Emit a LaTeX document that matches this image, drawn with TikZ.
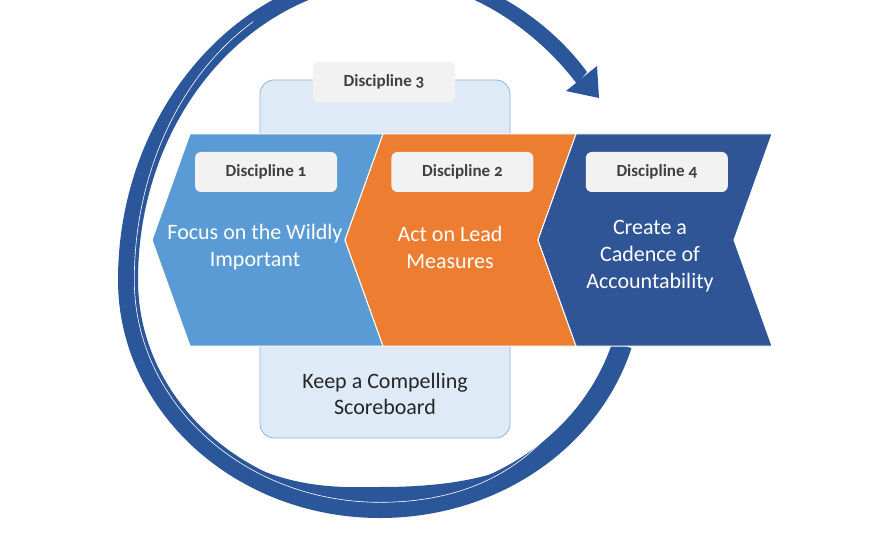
\documentclass[tikz,border=0pt]{standalone}
\usepackage{fontspec}
\setmainfont{Carlito}[Numbers=OldStyle]
\usetikzlibrary{positioning}

\definecolor{wheelblue}{HTML}{2B579A}
\definecolor{darkblue}{HTML}{2F5597}
\definecolor{lightblue}{HTML}{5B9BD5}
\definecolor{discorange}{HTML}{ED7D31}
\definecolor{boardfill}{HTML}{DEEBF7}
\definecolor{boardline}{HTML}{8DB3E2}
\definecolor{tagfill}{HTML}{F2F2F2}
\definecolor{tagtext}{HTML}{404040}

\begin{document}
\begin{tikzpicture}[x=1pt, y=-1pt]
  \tikzset{TagStyle/.style  = {shape          = rectangle,
                               rounded corners = 6pt,
                               fill           = tagfill,
                               text           = tagtext,
                               font           = \bfseries\fontsize{17}{20}\selectfont,
                               inner sep      = 0pt,
                               minimum width  = 142pt,
                               minimum height = 40pt},
           TextStyle/.style = {align = center, text = white, font = \fontsize{22}{27}\selectfont},
           BandStyle/.style = {draw = wheelblue, line cap = butt}}
  \useasboundingbox (0,0) rectangle (880,540);
  \fill[white] (0,0) rectangle (880,540);
    %%% LA ROUE %%%
    \draw[BandStyle, line width=20pt] (622,345) .. controls (590,442) and (492,508) .. (380,508)
                                                .. controls (241,508) and (128,406) .. (128,280);
    \fill[wheelblue] (118,280) .. controls (118,110) and (240,-32) .. (395,-32)
                               .. controls (462,-32) and (540,8) .. (587,72)
                     -- (577,84) .. controls (535,28) and (465,-18) .. (400,-18)
                               .. controls (250,-18) and (138,118) .. (138,280) -- cycle;
    \fill[wheelblue] (566,91) -- (597,66) -- (599,98) -- cycle;
    % second trait du bas
    \fill[wheelblue] (231,457) .. controls (290,487) and (330,488) .. (380,487)
                               .. controls (430,487) and (470,482) .. (504,470)
                     -- (504,478) .. controls (450,500) and (420,505) .. (380,505)
                               .. controls (320,505) and (270,485) .. (231,464) -- cycle;
    % trait blanc
    \begin{scope}[shift={(380,280)}, scale=0.975, shift={(-380,-280)}]
      \draw[white, line width=0.6pt] (560,430) .. controls (520,480) and (460,508) .. (380,508)
                                     .. controls (241,508) and (128,406) .. (128,280)
                                     .. controls (128,170) and (175,70) .. (250,15);
    \end{scope}
    %%% DISCIPLINE 3 %%%
    \node[draw=boardline, fill=boardfill, line width=0.8pt, rounded corners=14pt,
          minimum width=250pt, minimum height=358pt](board) at (385,259){};
    \node[TagStyle](tag3) at (384,82){Discipline 3};
    \node[align=center, text=black!85, font=\fontsize{22}{26}\selectfont](keep) at (385,394)
      {Keep a Compelling\\Scoreboard};
    %%% CHEVRONS %%%
    \foreach \xa/\xb/\col in {190/383/lightblue, 383/576/discorange, 576/772/darkblue}
      \filldraw[fill=\col, draw=white, line width=1pt]
        (\xa,134) -- (\xb,134) -- (\xb-38,240) -- (\xb,346) -- (\xa,346) -- (\xa-38,240) -- cycle;
    %
    \tikzset{node distance = 54pt};
    \node[TagStyle](tag1) at (266,172){Discipline 1};
    \node[TagStyle, right=of tag1](tag2){Discipline 2};
    \node[TagStyle, right=52pt of tag2](tag4){Discipline 4};
    %
    \node[TextStyle](focus) at (255,247){Focus on the Wildly\\Important};
    \node[TextStyle](lead) at (450,247){Act on Lead\\Measures};
    \node[TextStyle](cadence) at (650,256){Create a\\Cadence of\\Accountability};
\end{tikzpicture}
\end{document}
